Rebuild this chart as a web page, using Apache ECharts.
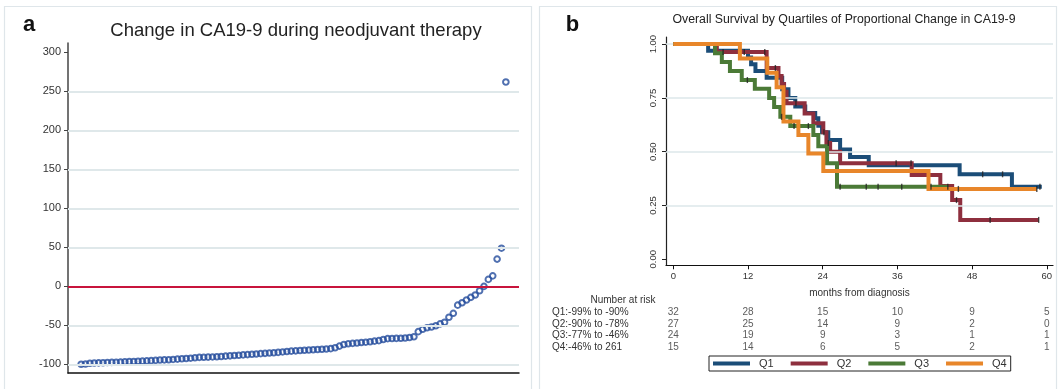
<!DOCTYPE html>
<html>
<head>
<meta charset="utf-8">
<script src="https://cdn.jsdelivr.net/npm/echarts@6/dist/echarts.min.js"></script>
<style>
  html, body { margin: 0; padding: 0; background: #fff; }
  #main { width: 1061px; height: 389px; }
</style>
</head>
<body>
<div id="main"></div>
<script>
// panel a: percent change in CA19-9, one point per patient, sorted
var changeVals = [
  -99.8, -99.5, -98.5, -98.2, -98, -97.8, -97.6, -97.4, -97.2, -97,
  -96.6, -96.4, -96.2, -96, -95.8, -95.5, -95.2, -94.8, -94.4, -94.2,
  -94, -93.6, -93.2, -92.8, -92.4, -92, -91.5, -91, -90.8, -90.6,
  -90.4, -90.2, -89.8, -89.4, -89, -88.6, -88.2, -87.8, -87.4, -87,
  -86.6, -86.2, -85.8, -85.4, -85, -84.6, -84, -83.4, -83, -82.6,
  -82.2, -81.8, -81.5, -81.2, -80.9, -80.6, -80.3, -79.8, -78.6, -76.5,
  -74.5, -73.6, -73, -72.5, -72, -71.5, -71, -70.2, -69.5, -68,
  -67, -66.8, -66.6, -66.4, -66.2, -65.5, -64.5, -58, -55, -53,
  -52, -50.5, -48, -46, -39.5, -34.5, -24, -21, -17.5, -14,
  -11, -5.5, 0, 9, 13.5, 35, 49, 262
];
var changeTicks = [-100, -50, 0, 50, 100, 150, 200, 250, 300];
var changeGrid = [-100, -50, 50, 100, 150, 200, 250];

// panel b: Kaplan-Meier steps [month, survival]
var q1Surv = [[0,1],[5.6,0.969],[12.0,0.938],[12.5,0.906],[13.2,0.875],[15.0,0.844],[17.5,0.79],[18.5,0.75],[19.6,0.71],[21.2,0.68],[22.8,0.655],[23.3,0.62],[23.9,0.59],[24.9,0.554],[26.8,0.51],[28.4,0.475],[31.4,0.437],[46.0,0.395],[54.4,0.337],[59.2,0.337]];
var q2Surv = [[0,1],[7.0,0.963],[15.0,0.889],[16.9,0.852],[17.4,0.815],[17.8,0.778],[18.2,0.725],[21.1,0.678],[22.5,0.632],[24.1,0.59],[24.6,0.54],[25.2,0.5],[26.8,0.446],[38.3,0.392],[42.9,0.34],[44.8,0.275],[46.1,0.183],[58.7,0.183]];
var q3Surv = [[0,1],[6.7,0.958],[7.8,0.917],[9.1,0.875],[11.0,0.833],[13.1,0.792],[15.4,0.75],[16.2,0.708],[17.2,0.662],[18.8,0.619],[22.5,0.577],[23.3,0.525],[24.7,0.446],[26.3,0.337],[44.2,0.337]];
var q4Surv = [[0,1],[10.7,0.933],[15.1,0.867],[16.6,0.8],[17.7,0.64],[20.1,0.577],[21.7,0.492],[24.1,0.41],[41.0,0.327],[58.4,0.327]];

// censoring times (months)
var q1Cens = [24.2, 49.7, 52.9, 58.9];
var q2Cens = [8.0, 11.4, 14.7, 16.4, 19.7, 24.9, 35.8, 38.2, 45.5, 50.9, 58.7];
var q3Cens = [11.9, 17.4, 19.4, 21.7, 26.8, 31.0, 32.9, 36.7, 41.4, 44.1];
var q4Cens = [45.8, 58.4];

var monthTicks = [0, 12, 24, 36, 48, 60];
var survTicks = [0, 0.25, 0.5, 0.75, 1];
var survGrid = [0.25, 0.5, 0.75, 1];

// number at risk table
var riskLabels = ['Q1:-99% to -90%', 'Q2:-90% to -78%', 'Q3:-77% to -46%', 'Q4:-46% to 261'];
var riskQ1 = [32, 28, 15, 10, 9, 5];
var riskQ2 = [27, 25, 14, 9, 2, 0];
var riskQ3 = [24, 19, 9, 3, 1, 1];
var riskQ4 = [15, 14, 6, 5, 2, 1];

var groupNames = ['Q1', 'Q2', 'Q3', 'Q4'];
var groupColors = ['#1b4d78', '#8e2f3e', '#4b7a37', '#e8862a'];
var survAll = [q1Surv, q2Surv, q3Surv, q4Surv];
var censAll = [q1Cens, q2Cens, q3Cens, q4Cens];
var riskAll = [riskQ1, riskQ2, riskQ3, riskQ4];

function survAt(steps, t) {
  var s = 1;
  for (var i = 0; i < steps.length; i++) {
    if (steps[i][0] <= t) s = steps[i][1];
  }
  return s;
}

var myChart = echarts.init(document.getElementById('main'));

var series = [];

// panel a
series.push({
  type: 'line', xAxisIndex: 0, yAxisIndex: 0, data: [], silent: true, z: 1,
  markLine: {
    silent: true, symbol: 'none', label: { show: false },
    lineStyle: { color: '#dfe8ea', width: 2, type: 'solid' },
    data: changeGrid.map(function (v) { return { yAxis: v }; })
  }
});
series.push({
  type: 'line', xAxisIndex: 0, yAxisIndex: 0, data: [], silent: true, z: 2,
  markLine: {
    silent: true, symbol: 'none', label: { show: false },
    lineStyle: { color: '#c8143c', width: 2, type: 'solid' },
    data: [{ yAxis: 0 }]
  }
});
// hollow rings, no fill, so overlapping markers all stay visible
series.push({
  type: 'scatter', xAxisIndex: 0, yAxisIndex: 0, z: 3,
  symbol: 'circle', symbolSize: 5.6,
  itemStyle: { color: 'rgba(0,0,0,0)', borderColor: '#244c9c', borderWidth: 2 },
  data: changeVals.map(function (v, i) { return [i + 1, v]; })
});

// panel b
series.push({
  type: 'line', xAxisIndex: 1, yAxisIndex: 1, data: [], silent: true, z: 1,
  markLine: {
    silent: true, symbol: 'none', label: { show: false },
    lineStyle: { color: '#dde7ea', width: 1.5, type: 'solid' },
    data: survGrid.map(function (v) { return { yAxis: v }; })
  }
});
for (var g = 0; g < 4; g++) {
  series.push({
    name: groupNames[g], type: 'line', xAxisIndex: 1, yAxisIndex: 1,
    step: 'end', showSymbol: false, symbol: 'none', z: 3 + g,
    color: groupColors[g],
    lineStyle: { width: 4, color: groupColors[g], join: 'miter' },
    data: survAll[g]
  });
}
for (var g = 0; g < 4; g++) {
  series.push({
    name: 'cens' + g, type: 'scatter', xAxisIndex: 1, yAxisIndex: 1, z: 10,
    symbol: 'rect', symbolSize: [1.4, 6],
    itemStyle: { color: '#222' },
    data: censAll[g].map(function (t) { return [t, survAt(survAll[g], t)]; })
  });
}
// risk table
for (var g = 0; g < 4; g++) {
  series.push({
    type: 'scatter', xAxisIndex: 2, yAxisIndex: 2, z: 5,
    symbol: 'circle', symbolSize: 1,
    itemStyle: { color: 'transparent' },
    label: {
      show: true, position: 'inside', color: '#333', fontSize: 10,
      formatter: function (p) { return p.value[2]; }
    },
    data: riskAll[g].map(function (n, k) { return [monthTicks[k], g, n]; })
  });
}

var option = {
  animation: false,
  textStyle: { fontFamily: 'Liberation Sans' },
  graphic: [
    { type: 'rect', shape: { x: 4.5, y: 6.5, width: 527, height: 400 }, style: { fill: 'none', stroke: '#dfe6ea', lineWidth: 1.2 } },
    { type: 'rect', shape: { x: 539.5, y: 6.5, width: 517, height: 400 }, style: { fill: 'none', stroke: '#dfe6ea', lineWidth: 1.2 } },
    { type: 'text', x: 29, y: 25, style: { text: 'a', font: 'bold 22px Liberation Sans', fill: '#111', align: 'center', verticalAlign: 'middle' } },
    { type: 'text', x: 296, y: 30.5, style: { text: 'Change in CA19-9 during neodjuvant therapy', font: '18.5px Liberation Sans', fill: '#222', align: 'center', verticalAlign: 'middle' } },
    { type: 'text', x: 572.5, y: 25, style: { text: 'b', font: 'bold 22px Liberation Sans', fill: '#111', align: 'center', verticalAlign: 'middle' } },
    { type: 'text', x: 844, y: 19.5, style: { text: 'Overall Survival by Quartiles of Proportional Change in CA19-9', font: '12.3px Liberation Sans', fill: '#222', align: 'center', verticalAlign: 'middle' } },
    { type: 'text', x: 623, y: 300.7, style: { text: 'Number at risk', font: '10px Liberation Sans', fill: '#333', align: 'center', verticalAlign: 'middle' } }
  ],
  grid: [
    { left: 68, top: 43, width: 451, height: 330 },
    { left: 666, top: 37, width: 387, height: 228.3 },
    { left: 666, top: 306.6, width: 387, height: 45.9 }
  ],
  xAxis: [
    { gridIndex: 0, type: 'value', min: -2, max: 101,
      axisLine: { onZero: false, lineStyle: { color: '#111', width: 1.5 } },
      axisTick: { show: false }, axisLabel: { show: false }, splitLine: { show: false } },
    { gridIndex: 1, type: 'value', min: -1.17, max: 61,
      name: 'months from diagnosis', nameLocation: 'middle', nameGap: 23,
      nameTextStyle: { fontSize: 10, color: '#333' },
      axisLine: { onZero: false, lineStyle: { color: '#111', width: 1.2 } },
      axisTick: { show: true, length: 4, customValues: monthTicks, lineStyle: { color: '#111' } },
      axisLabel: { customValues: monthTicks, fontSize: 9.5, color: '#333', margin: 6 },
      splitLine: { show: false } },
    { gridIndex: 2, type: 'value', min: -1.17, max: 61, show: false }
  ],
  yAxis: [
    { gridIndex: 0, type: 'value', min: -111, max: 312,
      axisLine: { show: true, onZero: false, lineStyle: { color: '#444', width: 1.5 } },
      axisTick: { show: true, length: 4, customValues: changeTicks, lineStyle: { color: '#444' } },
      axisLabel: { customValues: changeTicks, fontSize: 11, color: '#333', margin: 7 },
      splitLine: { show: false } },
    { gridIndex: 1, type: 'value', min: -0.028, max: 1.033,
      axisLine: { show: true, onZero: false, lineStyle: { color: '#222', width: 1.2 } },
      axisTick: { show: true, length: 4, customValues: survTicks, lineStyle: { color: '#222' } },
      axisLabel: { customValues: survTicks, fontSize: 9.5, color: '#333', rotate: 90, margin: 8,
        formatter: function (v) { return v.toFixed(2); } },
      splitLine: { show: false } },
    { gridIndex: 2, type: 'category', inverse: true, data: riskLabels,
      axisLine: { show: false }, axisTick: { show: false },
      axisLabel: { interval: 0, fontSize: 10, color: '#333', align: 'left', margin: 114 } }
  ],
  legend: {
    data: groupNames, left: 709, top: 356, orient: 'horizontal',
    padding: [2, 4, 2, 4], itemWidth: 37, itemHeight: 4, itemGap: 17,
    icon: 'rect', borderColor: '#222', borderWidth: 1, borderRadius: 0,
    textStyle: { fontSize: 11, color: '#333', padding: [0, 0, 0, 4] }
  },
  series: series
};
myChart.setOption(option);
</script>
</body>
</html>
